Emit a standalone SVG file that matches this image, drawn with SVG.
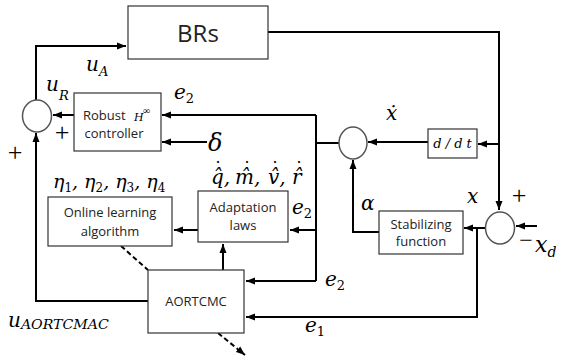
<svg xmlns="http://www.w3.org/2000/svg" width="564" height="361" viewBox="0 0 564 361">
<defs>
<marker id="ah" markerUnits="userSpaceOnUse" markerWidth="10" markerHeight="8" refX="9" refY="4" orient="auto">
<path d="M0,0.5 L9,4 L0,7.5 Z" fill="#000"/>
</marker>
<style>
.box{fill:#fff;stroke:#333;stroke-width:1.2}
.sum{fill:#fff;stroke:#555;stroke-width:1.5}
.c{fill:none;stroke:#000;stroke-width:2}
.a{marker-end:url(#ah)}
.d{stroke-dasharray:5,3}
.t{font-family:"Open Sans","Liberation Sans",sans-serif;font-size:13px;fill:#222;text-anchor:middle}
.m{font-family:"DejaVu Serif","Liberation Serif",serif;font-style:italic;fill:#000}
.p{font-family:"Liberation Serif","DejaVu Serif",serif;fill:#000}
.dot{font-family:"DejaVu Serif",serif;font-size:18px;fill:#000;text-anchor:middle}
</style>
</defs>
<g id="connectors">
<path class="c a" d="M36,100 V46 H126"/>
<path class="c a" d="M268,32 H499 V210"/>
<path class="c a" d="M499,144 H478"/>
<path class="c a" d="M428,142 H368"/>
<path class="c" d="M339,143 H316"/>
<path class="c" d="M316,115 V281"/>
<path class="c a" d="M316,115 H162"/>
<path class="c a" d="M316,230 H290"/>
<path class="c a" d="M316,281 H246"/>
<path class="c a" d="M207,142 H162"/>
<path class="c a" d="M74,115 H53"/>
<path class="c a" d="M148,301 H36 V133"/>
<path class="c a" d="M223,270 V244"/>
<path class="c a" d="M198,230 H174"/>
<path class="c d" d="M121,246 L148,270"/>
<path class="c d a" d="M218,333 L245,355"/>
<path class="c a" d="M537,226 H516"/>
<path class="c a" d="M486,228 H464"/>
<path class="c a" d="M477,228 V317 H246"/>
<path class="c a" d="M379,232 H353 V160"/>
</g>
<g id="BRs">
<rect class="box" x="128" y="6" width="140" height="53"/>
<text class="t" x="198" y="42" style="font-size:24px">BRs</text>
</g>
<g id="sum1"><ellipse class="sum" cx="37" cy="116" rx="14.5" ry="16"/></g>
<g id="sum2"><ellipse class="sum" cx="353" cy="143" rx="14" ry="16"/></g>
<g id="sum3"><ellipse class="sum" cx="500" cy="228" rx="14.5" ry="16"/></g>
<g id="robust">
<rect class="box" x="74" y="93" width="87" height="58"/>
<text class="t" x="83" y="120" style="text-anchor:start">Robust</text>
<text class="m" x="134" y="121" style="font-size:11px">H</text>
<text class="p" x="143" y="114" style="font-size:10px">∞</text>
<text class="t" x="114" y="138">controller</text>
</g>
<g id="ddt">
<rect class="box" x="428" y="129" width="49" height="29"/>
<text class="m" x="452.5" y="148" style="font-size:13px;text-anchor:middle">d / d t</text>
</g>
<g id="stab">
<rect class="box" x="379" y="211" width="84" height="43"/>
<text class="t" x="421" y="229">Stabilizing</text>
<text class="t" x="421" y="246">function</text>
</g>
<g id="online">
<rect class="box" x="48" y="197" width="124" height="49"/>
<text class="t" x="110" y="217">Online learning</text>
<text class="t" x="110" y="236">algorithm</text>
</g>
<g id="adapt">
<rect class="box" x="198" y="191" width="90" height="51"/>
<text class="t" x="243" y="212">Adaptation</text>
<text class="t" x="243" y="230">laws</text>
</g>
<g id="aortcmc">
<rect class="box" x="148" y="270" width="96" height="63"/>
<text class="t" x="196" y="306">AORTCMC</text>
</g>
<g id="labels">
<text class="m" x="86" y="71" style="font-size:20px">u<tspan dy="5" style="font-size:13px">A</tspan></text>
<text class="m" x="46" y="91" style="font-size:20px">u<tspan dy="9" style="font-size:13px">R</tspan></text>
<text class="m" x="174" y="99" style="font-size:20px">e<tspan dy="4" style="font-size:13px;font-style:normal">2</tspan></text>
<text class="p" x="62" y="141" style="font-size:26px;text-anchor:middle">+</text>
<text class="p" x="15" y="161" style="font-size:26px;text-anchor:middle">+</text>
<text class="m" x="208" y="151" style="font-size:24px">δ</text>
<text class="m" x="386" y="120" style="font-size:20px">ẋ</text>
<text class="m" x="53" y="188" style="font-size:19px">η<tspan dy="4" style="font-size:12px;font-style:normal">1</tspan><tspan dy="-4">, η</tspan><tspan dy="4" style="font-size:12px;font-style:normal">2</tspan><tspan dy="-4">, η</tspan><tspan dy="4" style="font-size:12px;font-style:normal">3</tspan><tspan dy="-4">, η</tspan><tspan dy="4" style="font-size:12px;font-style:normal">4</tspan></text>
<text class="m" y="184" style="font-size:20px"><tspan x="211">q̂,</tspan><tspan x="235">m̂,</tspan><tspan x="268">v̂,</tspan><tspan x="292">r̂</tspan></text>
<text class="dot" y="175"><tspan x="218">˙</tspan><tspan x="247">˙</tspan><tspan x="275">˙</tspan><tspan x="299">˙</tspan></text>
<text class="m" x="292" y="214" style="font-size:20px">e<tspan dy="4" style="font-size:13px;font-style:normal">2</tspan></text>
<text class="m" x="325" y="286" style="font-size:20px">e<tspan dy="4" style="font-size:13px;font-style:normal">2</tspan></text>
<text class="m" x="305" y="332" style="font-size:20px">e<tspan dy="4" style="font-size:13px;font-style:normal">1</tspan></text>
<text class="m" x="361" y="210" style="font-size:20px">α</text>
<text class="m" x="467" y="203" style="font-size:20px">x</text>
<text class="p" x="519" y="204" style="font-size:26px;text-anchor:middle">+</text>
<text class="p" x="526" y="248" style="font-size:24px;text-anchor:middle">−</text>
<text class="m" x="535" y="252" style="font-size:22px">x<tspan dy="5" style="font-size:14px">d</tspan></text>
<text class="m" x="8" y="327" style="font-size:20px">u<tspan dy="2" style="font-size:12px" textLength="88" lengthAdjust="spacingAndGlyphs">AORTCMAC</tspan></text>
</g>
</svg>
